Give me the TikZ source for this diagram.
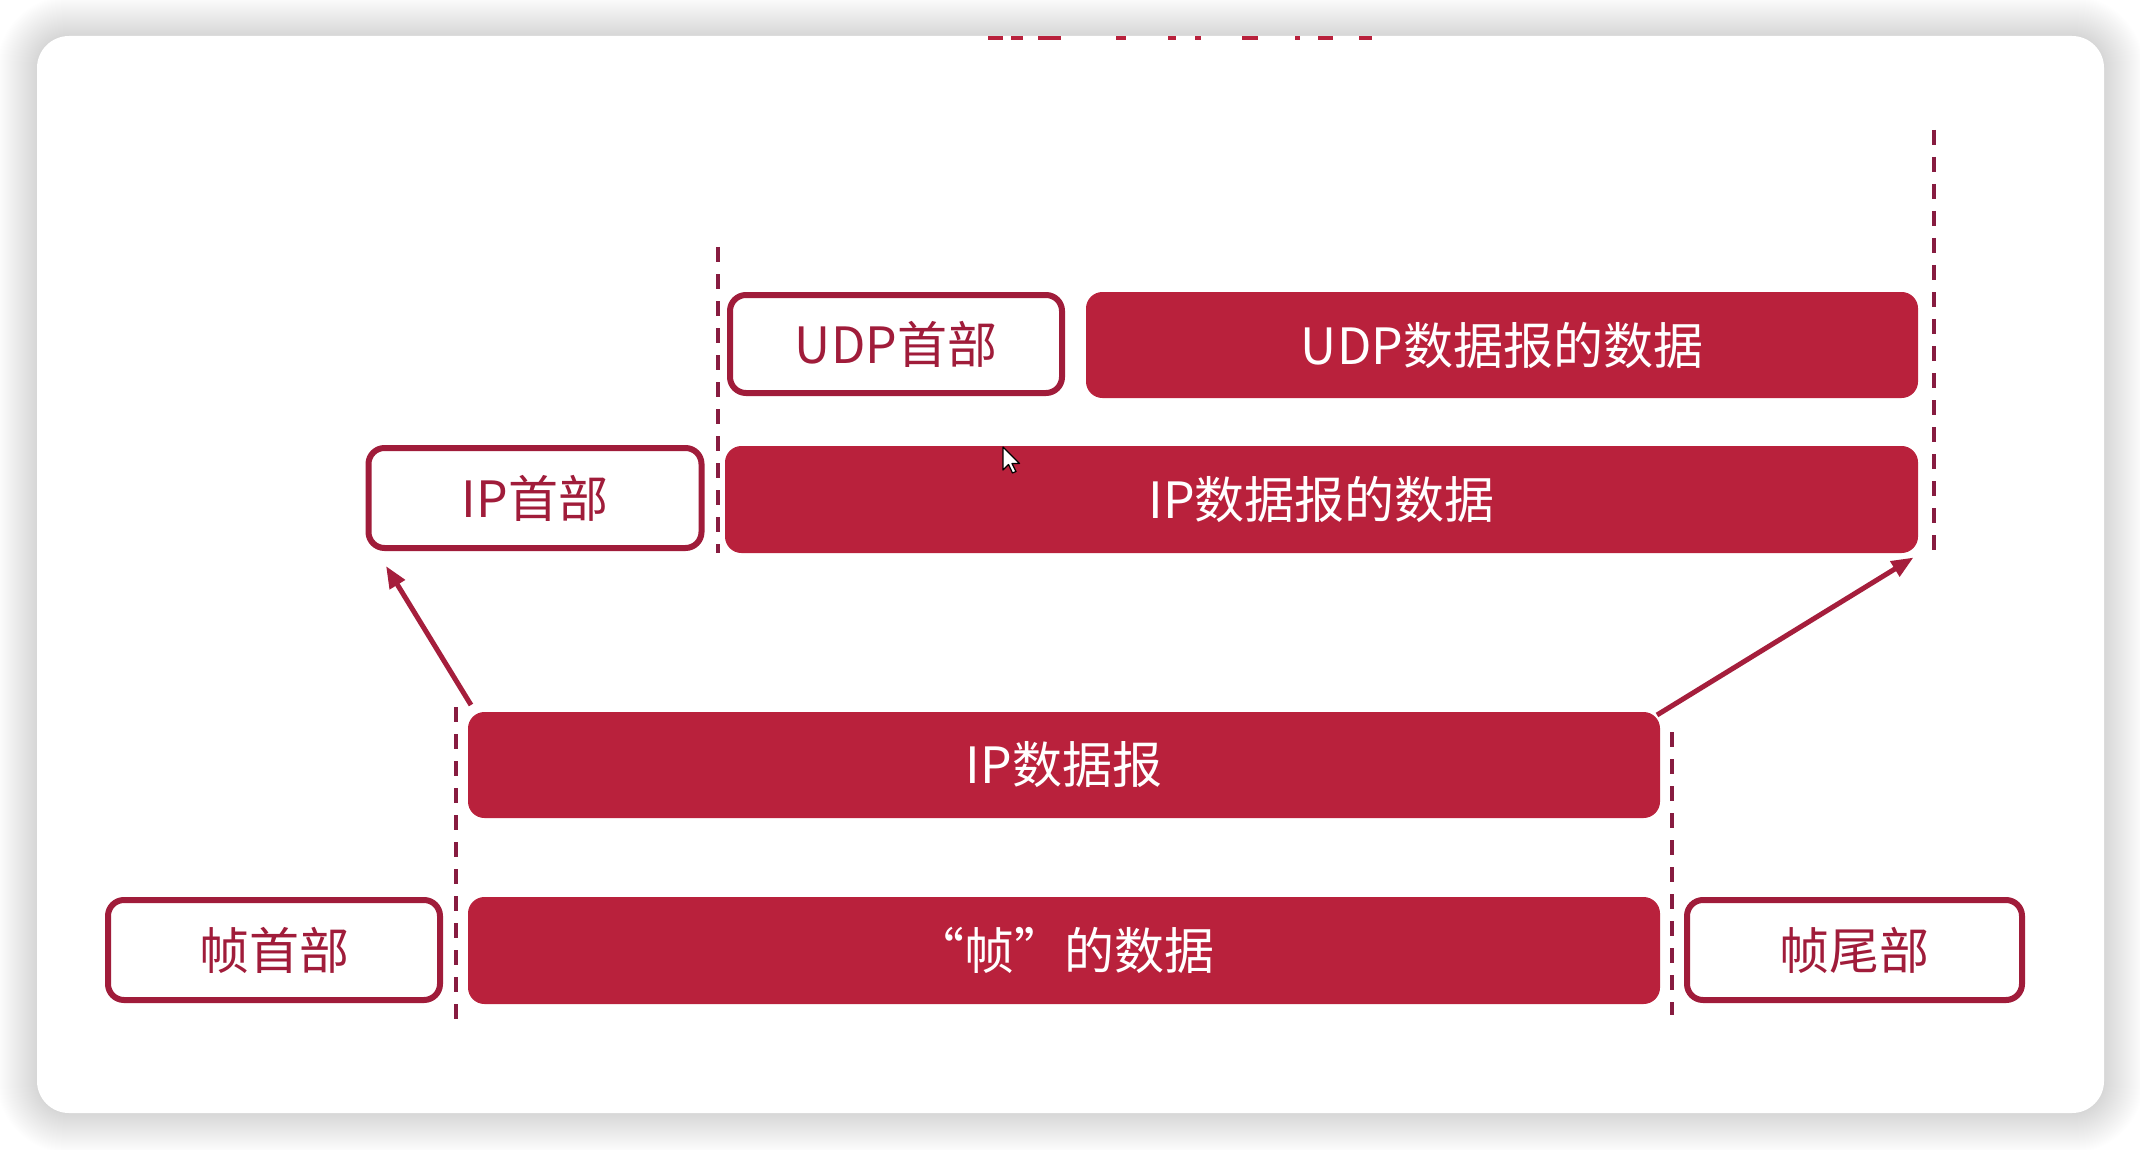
\documentclass[tikz,border=0pt]{standalone}
\usepackage{fontspec}
\newfontfamily\cjk{Noto Sans CJK SC}
\newfontfamily\cjkq[RawFeature=+fwid]{Noto Sans CJK SC}
\usetikzlibrary{arrows.meta,calc}
\definecolor{boxred}{RGB}{185,33,60}
\definecolor{edgered}{RGB}{160,28,58}
\definecolor{dashred}{RGB}{135,28,64}
\definecolor{arrowred}{RGB}{165,30,60}
\begin{document}
\begin{tikzpicture}[x=1pt,y=-1pt,
  solidbox/.style={rounded corners=16pt, fill=boxred, draw=boxred, line width=1pt,
    text=white, inner sep=0pt, font=\fontsize{50}{60}\selectfont\cjk},
  hollowbox/.style={rounded corners=16pt, fill=white, draw=edgered, line width=6pt,
    text=edgered, inner sep=0pt, font=\fontsize{50}{60}\selectfont\cjk},
  guide/.style={draw=dashred, line width=4pt, dash pattern=on 15pt off 12pt},
  link/.style={draw=arrowred, line width=5pt, -{Triangle[length=22pt,width=17pt]}}
]
\useasboundingbox (0,0) rectangle (2140,1150);
\fill[white] (0,0) rectangle (2140,1150);
% soft shadow round the card
\foreach \i [evaluate=\i as \r using 32+\i] in {1,...,40}
  \fill[black,opacity=0.005,rounded corners=\r pt] (37-\i,36-\i) rectangle (2104+\i,1113+\i);
\fill[white,rounded corners=32pt] (37,36) rectangle (2104,1113);
% cut-off title fragments
\foreach \a/\b in {988/1003,1011/1023,1038/1061,1116/1126,1168/1176,1195/1201,1242/1258,1295/1300,1318/1333,1359/1372}
  \fill[boxred] (\a,36) rectangle (\b,40);

% boxes
\node[hollowbox, minimum width=332pt, minimum height=98pt] (udph) at (896,344) {UDP首部};
\node[solidbox, minimum width=831pt, minimum height=105pt] (udpd) at (1502,345) {UDP数据报的数据};
\node[hollowbox, minimum width=333pt, minimum height=100pt] (iph) at (535,498) {IP首部};
\node[solidbox, minimum width=1192pt, minimum height=106pt] (ipd) at (1321.5,499.5) {IP数据报的数据};
\node[solidbox, minimum width=1191pt, minimum height=105pt] (ipdg) at (1064,765) {IP数据报};
\node[hollowbox, minimum width=332pt, minimum height=100pt] (fh) at (274,950) {帧首部};
\node[solidbox, minimum width=1191pt, minimum height=106pt] (fd) at (1064,950.5) {{\cjkq “}帧{\cjkq ”}的数据};
\node[hollowbox, minimum width=335pt, minimum height=100pt] (ft) at (1854.5,950) {帧尾部};

% dashed guides
\coordinate (a1) at (718,247);  \coordinate (a2) at (718,553);
\coordinate (b1) at (1934,130); \coordinate (b2) at (1934,552);
\coordinate (c1) at (456,707);  \coordinate (c2) at (456,1023);
\coordinate (d1) at (1672,732); \coordinate (d2) at (1672,1015);
\draw[guide] (a1) -- (a2);
\draw[guide] (b1) -- (b2);
\draw[guide] (c1) -- (c2);
\draw[guide] (d1) -- (d2);

% arrows
\coordinate (ls) at ($(ipdg.north west)+(3,-7)$);
\coordinate (lt) at ($(iph.south west)+(20.5,15)$);
\coordinate (rs) at ($(ipdg.north east)+(-3,3)$);
\coordinate (rt) at ($(ipd.south east)+(-4.5,4.5)$);
\draw[link] (ls) -- (lt);
\draw[link] (rs) -- (rt);

% mouse pointer
\coordinate (cur) at (1003,447);
\filldraw[fill=white,draw=black,line width=1.2pt,line join=round,shift={(cur)}]
  (0,0) -- (0,23) -- (5.5,17.5) -- (9.5,26) -- (13,24.5) -- (9,16.5) -- (16.5,16.5) -- cycle;
\end{tikzpicture}
\end{document}
